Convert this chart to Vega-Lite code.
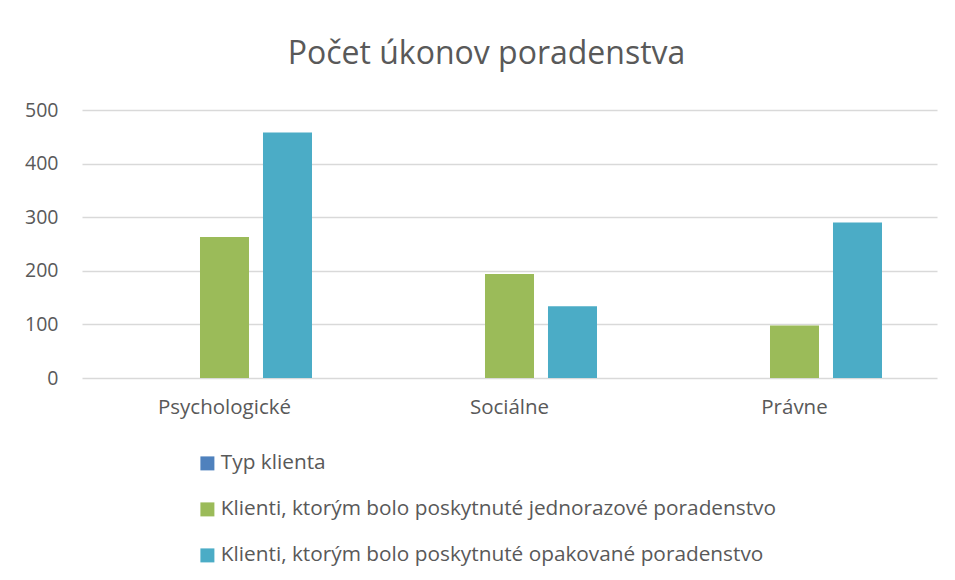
{
  "$schema": "https://vega.github.io/schema/vega-lite/v6.json",
  "autosize": "none",
  "width": 855,
  "height": 268,
  "padding": {"left": 82, "top": 110, "right": 18, "bottom": 202},
  "background": "white",
  "title": {
    "text": "Počet úkonov poradenstva",
    "font": "Open Sans",
    "fontSize": 32,
    "fontWeight": "normal",
    "color": "#595959",
    "anchor": "middle",
    "baseline": "alphabetic",
    "offset": 4,
    "dx": -23
  },
  "data": {
    "values": [
      {"kategoria": "Psychologické", "seria": "Typ klienta", "pocet": 0},
      {"kategoria": "Psychologické", "seria": "Klienti, ktorým bolo poskytnuté jednorazové poradenstvo", "pocet": 263},
      {"kategoria": "Psychologické", "seria": "Klienti, ktorým bolo poskytnuté opakované poradenstvo", "pocet": 458},
      {"kategoria": "Sociálne", "seria": "Typ klienta", "pocet": 0},
      {"kategoria": "Sociálne", "seria": "Klienti, ktorým bolo poskytnuté jednorazové poradenstvo", "pocet": 194},
      {"kategoria": "Sociálne", "seria": "Klienti, ktorým bolo poskytnuté opakované poradenstvo", "pocet": 134},
      {"kategoria": "Právne", "seria": "Typ klienta", "pocet": 0},
      {"kategoria": "Právne", "seria": "Klienti, ktorým bolo poskytnuté jednorazové poradenstvo", "pocet": 98},
      {"kategoria": "Právne", "seria": "Klienti, ktorým bolo poskytnuté opakované poradenstvo", "pocet": 290}
    ]
  },
  "mark": {"type": "bar"},
  "encoding": {
    "x": {
      "field": "kategoria",
      "type": "nominal",
      "sort": ["Psychologické", "Sociálne", "Právne"],
      "scale": {"paddingInner": 0, "paddingOuter": 0},
      "axis": {
        "title": null,
        "labelAngle": 0,
        "ticks": false,
        "domain": false,
        "labelFont": "Open Sans",
        "labelFontSize": 20.5,
        "labelColor": "#595959",
        "labelPadding": 19
      }
    },
    "xOffset": {
      "field": "seria",
      "type": "nominal",
      "sort": ["Typ klienta", "Klienti, ktorým bolo poskytnuté jednorazové poradenstvo", "Klienti, ktorým bolo poskytnuté opakované poradenstvo"],
      "scale": {"paddingInner": 0.222, "paddingOuter": 0.873}
    },
    "y": {
      "field": "pocet",
      "type": "quantitative",
      "scale": {"domain": [0, 500]},
      "axis": {
        "title": null,
        "values": [0, 100, 200, 300, 400, 500],
        "ticks": false,
        "domain": false,
        "gridColor": "#D9D9D9",
        "gridWidth": 1.3,
        "labelFont": "Open Sans",
        "labelFontSize": 19.5,
        "labelColor": "#595959",
        "labelPadding": 24
      }
    },
    "color": {
      "field": "seria",
      "type": "nominal",
      "sort": ["Typ klienta", "Klienti, ktorým bolo poskytnuté jednorazové poradenstvo", "Klienti, ktorým bolo poskytnuté opakované poradenstvo"],
      "scale": {"range": ["#4F81BD", "#9BBB59", "#4BACC6"]},
      "legend": {
        "title": null,
        "orient": "none",
        "legendX": 115,
        "legendY": 343,
        "direction": "vertical",
        "symbolType": "square",
        "symbolSize": 196,
        "symbolStrokeWidth": 0,
        "symbolOpacity": 1,
        "labelFont": "Open Sans",
        "labelFontSize": 20.8,
        "labelColor": "#595959",
        "labelOffset": 3,
        "labelLimit": 800,
        "rowPadding": 24
      }
    }
  },
  "config": {
    "view": {"stroke": null}
  }
}
